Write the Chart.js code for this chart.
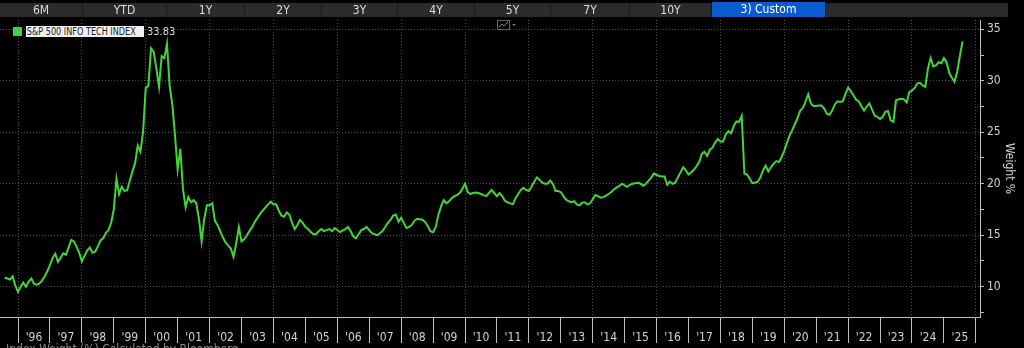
<!DOCTYPE html>
<html>
<head>
<meta charset="utf-8">
<script src="https://cdn.jsdelivr.net/npm/chart.js@4.4.1/dist/chart.umd.min.js"></script>
<style>
    html, body { margin: 0; padding: 0; background: #000; width: 1024px; height: 348px; overflow: hidden; }
    body { font-family: "Liberation Sans Narrow", "Arial Narrow", "DejaVu Sans Condensed", sans-serif; }
    #wrap { position: relative; width: 1024px; height: 348px; }
    #chart { position: absolute; left: 0; top: 0; }
    #tabs { position: absolute; left: 0; top: 3px; width: 1008px; height: 14px; background: #2b2b2b; }
    .tab { position: absolute; top: 0; height: 14px; line-height: 14px; text-align: center; color: #dcdcdc; font-size: 12px; border-right: 1px solid #1b1b1b; box-sizing: border-box; }
    .tab.on { background: #0a5bd0; color: #fff; top: -1px; height: 15px; }
    #legend { position: absolute; left: 13px; top: 26px; height: 11px; font-size: 11px; line-height: 11px; white-space: nowrap; }
    #legend .sw { position: absolute; left: 0; top: 1px; width: 9px; height: 9px; background: #3fd13f; }
    #legend .name { position: absolute; left: 13px; top: 0; width: 118px; height: 11px; background: #f0f0f0; color: #222; overflow: hidden; }
    #legend .name span { display: inline-block; transform: scaleX(0.82); transform-origin: 0 0; padding-left: 1px; }
    #legend .val { position: absolute; left: 134px; top: 0; color: #dcdcdc; }
    #icon { position: absolute; left: 497px; top: 20px; }
    #foot { position: absolute; left: 6px; top: 342px; font-size: 12px; color: #8a8a8a; white-space: nowrap; }
</style>
</head>
<body>
<div id="wrap">
    <canvas id="chart" width="1024" height="348"></canvas>
    <div id="tabs"></div>
    <div id="legend"><span class="sw"></span><span class="name"><span>S&amp;P 500 INFO TECH INDEX</span></span><span class="val">33.83</span></div>
    <svg id="icon" width="22" height="10"><rect x="0.5" y="0.5" width="12" height="9" fill="none" stroke="#666"/><polyline points="2,7 5,4 7,6 11,2" fill="none" stroke="#888"/><polygon points="15,4 19,4 17,6" fill="#777"/></svg>
    <div id="foot">Index Weight (%) Calculated by Bloomberg</div>
</div>
<script>
// S&P 500 Info Tech index weight, monthly, Aug 1995 - Aug 2025
const startYear = 1995;
const startMonth = 8;

const weights = [
    10.9, 10.8, 10.7, 11.0, 10.1,
    9.5, 10.0, 10.4, 10.0, 10.5, 10.8, 10.3, 10.2, 10.3, 10.6, 11.0, 11.5,
    12.1, 12.8, 13.2, 12.4, 12.8, 13.25, 13.1, 13.8, 14.55, 14.4, 13.9, 13.3,
    12.45, 13.0, 13.5, 13.8, 13.3, 13.4, 13.9, 14.5, 14.7, 15.2, 15.5, 16.2,
    17.5, 20.5, 19.0, 19.7, 19.3, 19.35, 20.3, 21.2, 22.0, 23.7, 23.1, 25.0,
    29.3, 29.5, 33.15, 32.8, 31.2, 29.4, 32.4, 32.2, 33.6, 29.5, 27.7, 24.7,
    21.4, 23.4, 19.5, 17.7, 18.7, 18.2, 18.4, 18.1, 16.6, 14.4, 16.6, 17.9,
    17.9, 18.1, 16.4, 16.0, 15.4, 14.8, 14.3, 14.0, 13.7, 12.9, 14.2, 15.8,
    14.4, 14.6, 15.0, 15.4, 15.8, 16.3, 16.7, 17.1, 17.4, 17.7, 18.0, 18.25,
    18.0, 18.0, 17.4, 16.9, 16.8, 17.2, 17.0, 16.2, 15.6, 16.0, 16.5, 16.2,
    15.8, 15.6, 15.3, 15.1, 15.1, 15.4, 15.6, 15.4, 15.5, 15.6, 15.4, 15.7,
    15.5, 15.3, 15.45, 15.6, 15.8, 15.4, 14.9, 14.7, 15.1, 15.5, 15.6, 15.8,
    15.5, 15.2, 15.1, 15.0, 15.2, 15.4, 15.8, 16.2, 16.5, 16.9, 17.0, 16.3,
    16.7, 16.2, 15.7, 15.8, 16.0, 16.4, 16.6, 16.55, 16.5, 16.3, 15.9, 15.4,
    15.3, 15.8, 17.0, 17.8, 18.4, 18.1, 18.3, 18.6, 18.8, 18.9, 19.1, 19.5,
    20.0, 19.2, 19.0, 19.1, 19.15, 19.1, 19.0, 18.9, 18.8, 19.1, 19.4, 19.1,
    18.8, 19.1, 18.8, 18.35, 18.2, 18.1, 18.0, 18.6, 19.0, 19.4, 19.6, 19.4,
    19.3, 19.7, 20.2, 20.6, 20.4, 20.1, 20.0, 20.0, 20.3, 20.0, 19.3, 19.3,
    19.2, 18.8, 18.45, 18.3, 18.2, 18.3, 18.0, 17.9, 18.15, 18.2, 18.0, 18.1,
    18.5, 18.9, 18.8, 18.65, 18.7, 18.85, 19.0, 19.2, 19.45, 19.65, 19.8, 20.0,
    19.85, 19.7, 19.9, 20.0, 20.05, 20.1, 20.0, 19.8, 20.0, 20.3, 20.6, 21.0,
    20.85, 20.75, 20.7, 20.7, 19.9, 20.2, 20.0, 20.1, 20.6, 21.1, 21.6, 21.3,
    20.9, 21.1, 21.35, 21.7, 22.1, 22.9, 23.1, 22.7, 23.3, 23.5, 24.0, 24.35,
    24.1, 24.1, 24.8, 25.1, 24.9, 25.6, 26.05, 26.0, 26.6, 21.0, 20.9, 20.5,
    20.05, 20.1, 20.2, 20.6, 21.3, 21.75, 21.2, 21.6, 21.95, 22.2, 22.1, 22.6,
    23.2, 24.0, 24.7, 25.2, 25.8, 26.4, 27.1, 27.35, 28.0, 28.7, 27.8, 27.55,
    27.55, 27.6, 27.6, 27.3, 26.8, 26.7, 27.1, 27.7, 28.0, 27.95, 28.0, 28.7,
    29.35, 29.0, 28.6, 28.15, 28.0, 27.5, 27.1, 27.5, 27.8, 27.2, 26.6, 26.5,
    26.3, 26.5, 27.0, 27.05, 26.15, 26.0, 28.1, 28.2, 28.25, 28.2, 27.9, 28.9,
    29.05, 29.3, 29.75, 29.8, 29.55, 29.4, 31.2, 32.2, 31.4, 31.5, 31.8, 31.7,
    32.2, 31.8, 30.75, 30.3, 29.9, 30.9, 32.4, 33.83
];

// year boundaries on the x axis, labelled '96 .. '25
const yearTicks = [1996, 1997, 1998, 1999, 2000, 2001, 2002, 2003, 2004, 2005, 2006, 2007, 2008, 2009, 2010,
    2011, 2012, 2013, 2014, 2015, 2016, 2017, 2018, 2019, 2020, 2021, 2022, 2023, 2024, 2025, 2026];
const yearLabels = ["'96", "'97", "'98", "'99", "'00", "'01", "'02", "'03", "'04", "'05", "'06", "'07", "'08", "'09", "'10",
    "'11", "'12", "'13", "'14", "'15", "'16", "'17", "'18", "'19", "'20", "'21", "'22", "'23", "'24", "'25", ""];
const weightTicks = [7.5, 10, 12.5, 15, 17.5, 20, 22.5, 25, 27.5, 30, 32.5, 35];
const weightLabels = ["", "10", "", "15", "", "20", "", "25", "", "30", "", "35"];

const tabNames = ['6M', 'YTD', '1Y', '2Y', '3Y', '4Y', '5Y', '7Y', '10Y', '3) Custom'];
const tabEdges = [0, 83, 167, 245, 322, 398, 475, 551, 630, 712, 826];

const lineColor = '#44d43a';
const gridColor = '#4a4a4a';
const axisColor = '#bdbdbd';
const textColor = '#d2d2d2';
const tickFont = { family: '"Liberation Sans Narrow", "Arial Narrow", "DejaVu Sans Condensed", sans-serif', size: 12 };

// tab strip
const tabs = document.getElementById('tabs');
tabNames.forEach((name, i) => {
    const el = document.createElement('div');
    el.className = 'tab' + (i === tabNames.length - 1 ? ' on' : '');
    el.style.left = tabEdges[i] + 'px';
    el.style.width = (tabEdges[i + 1] - tabEdges[i]) + 'px';
    el.textContent = name;
    tabs.appendChild(el);
});

const points = weights.map((v, i) => ({ x: startYear + (startMonth - 1 + i) / 12, y: v }));

new Chart(document.getElementById('chart'), {
    type: 'line',
    data: {
        datasets: [{
            data: points,
            borderColor: lineColor,
            borderWidth: 2,
            pointRadius: 0,
            tension: 0,
            fill: false
        }]
    },
    options: {
        responsive: false,
        animation: false,
        layout: { padding: { top: 20, left: 0, right: 0, bottom: 0 } },
        plugins: {
            legend: { display: false },
            tooltip: { enabled: false }
        },
        scales: {
            x: {
                type: 'linear',
                position: 'bottom',
                min: 1995.436,
                max: 2026.13,
                afterBuildTicks: (scale) => { scale.ticks = yearTicks.map(v => ({ value: v })); },
                afterFit: (scale) => { scale.height = 31; },
                ticks: {
                    autoSkip: false,
                    maxRotation: 0,
                    labelOffset: 16,
                    padding: -12,
                    color: textColor,
                    font: tickFont,
                    callback: (value) => yearLabels[yearTicks.indexOf(value)]
                },
                grid: {
                    color: (ctx) => (ctx.tick && ctx.tick.value % 2 === 0) ? gridColor : 'rgba(0,0,0,0)',
                    tickColor: axisColor,
                    tickLength: 26,
                    tickBorderDash: []
                },
                border: { color: axisColor, dash: [1, 2] }
            },
            y: {
                position: 'right',
                min: 7.06,
                max: 35.9,
                afterBuildTicks: (scale) => { scale.ticks = weightTicks.map(v => ({ value: v })); },
                afterFit: (scale) => { scale.width = 44; },
                ticks: {
                    autoSkip: false,
                    padding: 3,
                    color: textColor,
                    font: tickFont,
                    callback: (value) => weightLabels[weightTicks.indexOf(value)]
                },
                grid: {
                    color: (ctx) => (ctx.tick && ctx.tick.value % 5 === 0) ? gridColor : 'rgba(0,0,0,0)',
                    tickColor: axisColor,
                    tickLength: 4,
                    tickBorderDash: []
                },
                border: { color: axisColor, dash: [1, 2] },
                title: {
                    display: true,
                    text: 'Weight %',
                    color: textColor,
                    font: tickFont,
                    padding: { top: 8, bottom: 0 }
                }
            }
        }
    }
});
</script>
</body>
</html>
